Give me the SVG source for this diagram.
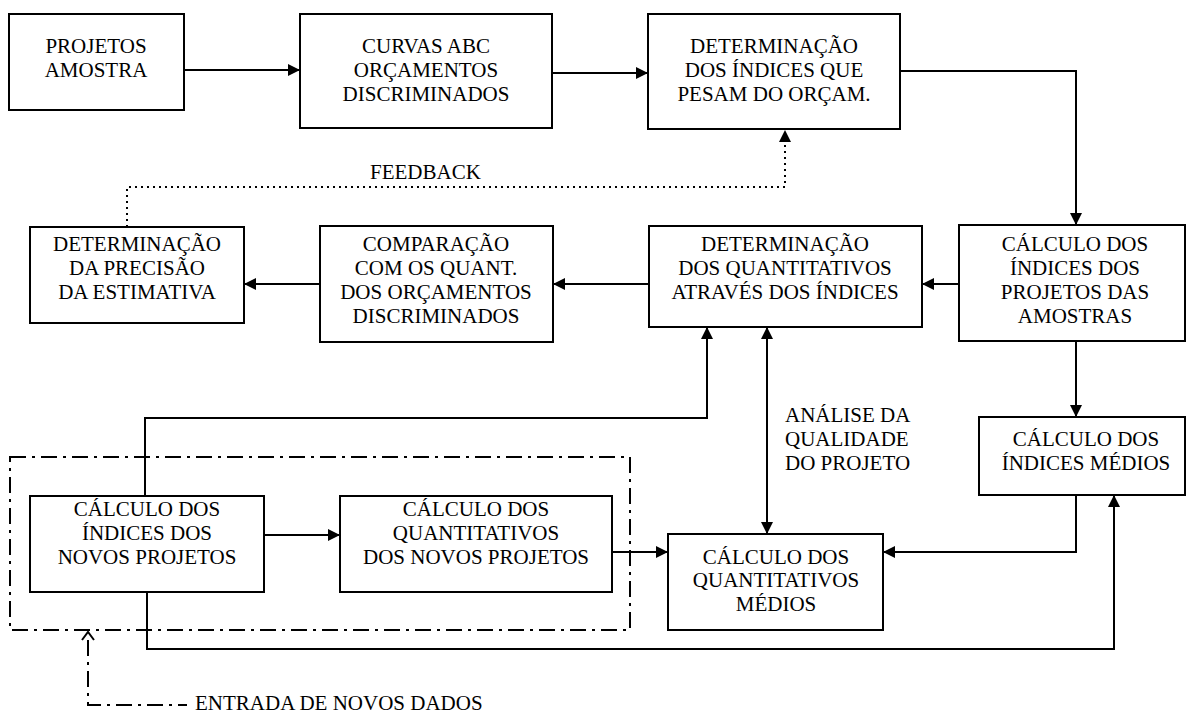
<svg xmlns="http://www.w3.org/2000/svg" width="1188" height="717" viewBox="0 0 1188 717">
  <style>
    .box { fill: #ffffff; stroke: #000000; stroke-width: 2; }
    .lbl { font-family: 'Liberation Serif', 'Times New Roman', 'DejaVu Serif', serif; font-size: 21px; fill: #000000; text-anchor: middle; }
    .free { font-family: 'Liberation Serif', 'Times New Roman', 'DejaVu Serif', serif; font-size: 21px; fill: #000000; }
    .wire { fill: none; stroke: #000000; stroke-width: 2; }
    .dotted { fill: none; stroke: #000000; stroke-width: 2; stroke-dasharray: 2 4; }
    .dashdot { fill: none; stroke: #000000; stroke-width: 2; stroke-dasharray: 16 6 3 6; }
  </style>
  <defs>
    <marker id="ah" viewBox="0 0 12 12" refX="12" refY="6" markerWidth="12" markerHeight="12" markerUnits="userSpaceOnUse" orient="auto-start-reverse">
      <path d="M0,0 L12,6 L0,12 z" fill="#000000"/>
    </marker>
  </defs>
  <rect width="1188" height="717" fill="#ffffff"/>

  <!-- boundary of the new-project stage -->
  <rect id="new-data-region" x="10" y="457" width="620" height="173" class="dashdot"/>

  <!-- connectors -->
  <g id="connectors">
    <path class="wire" d="M184,70 H300" marker-end="url(#ah)"/>
    <path class="wire" d="M552,73 H648" marker-end="url(#ah)"/>
    <path class="wire" d="M900,71 H1076 V225" marker-end="url(#ah)"/>
    <path class="wire" d="M959,284 H922" marker-end="url(#ah)"/>
    <path class="wire" d="M649,284 H553" marker-end="url(#ah)"/>
    <path class="wire" d="M320,284 H244" marker-end="url(#ah)"/>
    <path class="dotted" d="M127,227 V187 H785 V130" marker-end="url(#ah)"/>
    <path class="wire" d="M1076,341 V417" marker-end="url(#ah)"/>
    <path class="wire" d="M1076,495 V552 H883" marker-end="url(#ah)"/>
    <path class="wire" d="M145,496 V418 H707 V327" marker-end="url(#ah)"/>
    <path class="wire" d="M264,535 H340" marker-end="url(#ah)"/>
    <path class="wire" d="M612,552 H668" marker-end="url(#ah)"/>
    <path class="wire" d="M767,327 V534" marker-start="url(#ah)" marker-end="url(#ah)"/>
    <path class="wire" d="M147,592 V649 H1114 V495" marker-end="url(#ah)"/>
    <!-- new data entry -->
    <path class="wire" d="M82,640 L88,632 L94,640"/>
    <path class="dashdot" d="M88,640 V705 H187"/>
  </g>

  <g id="projetos-amostra">
    <rect class="box" x="9" y="14" width="175" height="96"/>
    <text class="lbl" x="96" y="53">PROJETOS</text>
    <text class="lbl" x="96" y="77">AMOSTRA</text>
  </g>

  <g id="curvas-abc">
    <rect class="box" x="300" y="14" width="252" height="114"/>
    <text class="lbl" x="426" y="53">CURVAS ABC</text>
    <text class="lbl" x="426" y="77">ORÇAMENTOS</text>
    <text class="lbl" x="426" y="101">DISCRIMINADOS</text>
  </g>

  <g id="determinacao-indices">
    <rect class="box" x="648" y="14" width="252" height="115"/>
    <text class="lbl" x="774" y="53">DETERMINAÇÃO</text>
    <text class="lbl" x="774" y="77">DOS ÍNDICES QUE</text>
    <text class="lbl" x="774" y="101">PESAM DO ORÇAM.</text>
  </g>

  <text class="free" x="370" y="179">FEEDBACK</text>

  <g id="determinacao-precisao">
    <rect class="box" x="30" y="227" width="214" height="96"/>
    <text class="lbl" x="137" y="251">DETERMINAÇÃO</text>
    <text class="lbl" x="137" y="275">DA PRECISÃO</text>
    <text class="lbl" x="137" y="299">DA ESTIMATIVA</text>
  </g>

  <g id="comparacao">
    <rect class="box" x="320" y="226" width="233" height="116"/>
    <text class="lbl" x="436" y="251">COMPARAÇÃO</text>
    <text class="lbl" x="436" y="275">COM OS QUANT.</text>
    <text class="lbl" x="436" y="299">DOS ORÇAMENTOS</text>
    <text class="lbl" x="436" y="323">DISCRIMINADOS</text>
  </g>

  <g id="determinacao-quantitativos">
    <rect class="box" x="649" y="226" width="273" height="101"/>
    <text class="lbl" x="785" y="251">DETERMINAÇÃO</text>
    <text class="lbl" x="785" y="275">DOS QUANTITATIVOS</text>
    <text class="lbl" x="785" y="299">ATRAVÉS DOS ÍNDICES</text>
  </g>

  <g id="calculo-indices-amostras">
    <rect class="box" x="959" y="225" width="226" height="116"/>
    <text class="lbl" x="1075" y="251">CÁLCULO DOS</text>
    <text class="lbl" x="1075" y="275">ÍNDICES DOS</text>
    <text class="lbl" x="1075" y="299">PROJETOS DAS</text>
    <text class="lbl" x="1075" y="323">AMOSTRAS</text>
  </g>

  <g id="analise-qualidade">
    <text class="free" x="785" y="422">ANÁLISE DA</text>
    <text class="free" x="785" y="446">QUALIDADE</text>
    <text class="free" x="785" y="470">DO PROJETO</text>
  </g>

  <g id="calculo-indices-medios">
    <rect class="box" x="979" y="417" width="206" height="78"/>
    <text class="lbl" x="1086" y="446">CÁLCULO DOS</text>
    <text class="lbl" x="1086" y="470">ÍNDICES MÉDIOS</text>
  </g>

  <g id="calculo-indices-novos">
    <rect class="box" x="30" y="496" width="234" height="96"/>
    <text class="lbl" x="147" y="516">CÁLCULO DOS</text>
    <text class="lbl" x="147" y="540">ÍNDICES DOS</text>
    <text class="lbl" x="147" y="564">NOVOS PROJETOS</text>
  </g>

  <g id="calculo-quantitativos-novos">
    <rect class="box" x="340" y="496" width="272" height="96"/>
    <text class="lbl" x="476" y="516">CÁLCULO DOS</text>
    <text class="lbl" x="476" y="540">QUANTITATIVOS</text>
    <text class="lbl" x="476" y="564">DOS NOVOS PROJETOS</text>
  </g>

  <g id="calculo-quantitativos-medios">
    <rect class="box" x="668" y="534" width="215" height="96"/>
    <text class="lbl" x="776" y="564">CÁLCULO DOS</text>
    <text class="lbl" x="776" y="587">QUANTITATIVOS</text>
    <text class="lbl" x="776" y="611">MÉDIOS</text>
  </g>

  <text class="free" x="195" y="710">ENTRADA DE NOVOS DADOS</text>
</svg>
